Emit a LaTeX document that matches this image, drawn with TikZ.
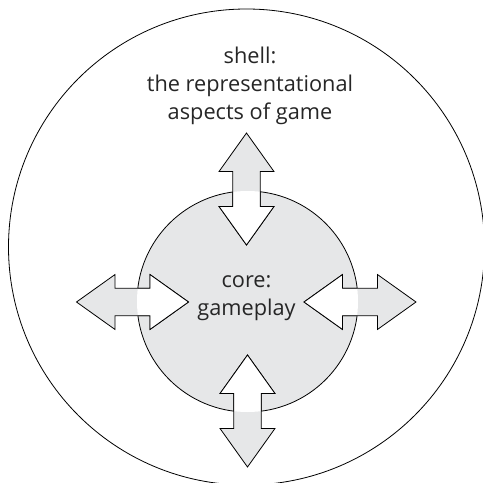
\documentclass[tikz,border=0pt]{standalone}
\usepackage{fontspec}
\setmainfont{Open Sans}
\usetikzlibrary{shapes.arrows}

\definecolor{coregray}{RGB}{230,231,232}

\begin{document}
\begin{tikzpicture}[x=0.75pt, y=-0.75pt,
  every ring/.style={circle, draw, line width=0.6pt, inner sep=0pt},
  every arrow/.style={double arrow, draw, line width=0.6pt, fill=coregray,
    inner xsep=0pt, inner ysep=10pt, minimum height=84pt,
    double arrow head extend=10.3pt, double arrow tip angle=71},
  every label/.style={align=center, font=\fontsize{16.3}{21}\selectfont, text=black!85}]

\useasboundingbox (0,0) rectangle (483,483);

\node [every ring, minimum size=357pt] (shell) at (246.5,247) {};
\node [every ring, fill=coregray, minimum size=165.75pt] (core) at (247.5,301.5) {};

\foreach \n/\x/\y/\r in {up/246.5/189/90, down/247.5/411/90, left/132.5/302/0, right/360/302/0}
  \node [every arrow, rotate=\r] (arrow-\n) at (\x,\y) {};

% the arrows turn white inside the core
\begin{scope}
  \clip (core.center) circle (110.5);
  \foreach \n/\x/\y/\r in {up/246.5/189/90, down/247.5/411/90, left/132.5/302/0, right/360/302/0}
    \node [every arrow, fill=white, rotate=\r] (inner-\n) at (\x,\y) {};
\end{scope}

\node [every label] (shell-text) at (250,86) {shell:\\the representational\\aspects of game};
\node [every label] (core-text) at (246.5,298) {core:\\gameplay};

\end{tikzpicture}
\end{document}
